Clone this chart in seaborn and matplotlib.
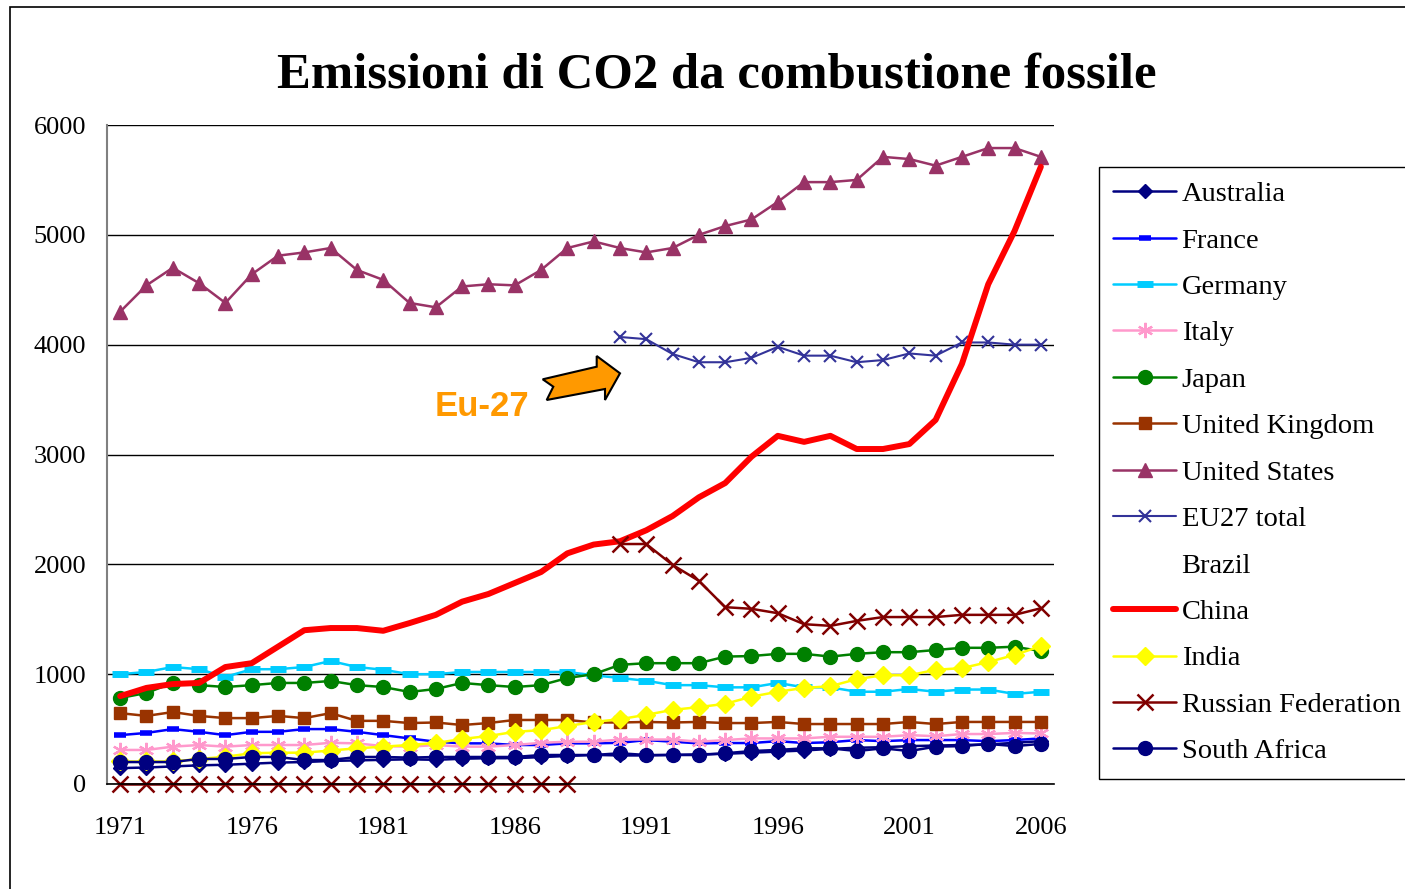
import numpy as np
import pandas as pd
import matplotlib
matplotlib.use("Agg")
import matplotlib.pyplot as plt
from matplotlib.lines import Line2D
from matplotlib.patches import Polygon, Rectangle
import seaborn as sns

years = list(range(1971, 2007))

australia = [145, 150, 160, 170, 175, 185, 195, 200, 210, 215, 220, 225, 220, 230, 235, 235,
             245, 255, 265, 260, 260, 265, 270, 275, 285, 295, 305, 320, 330, 335, 345, 350,
             355, 360, 375, 390]
france = [445, 465, 500, 475, 445, 475, 475, 500, 500, 475, 445, 415, 385, 370, 370, 355,
          355, 370, 370, 375, 400, 385, 370, 373, 373, 390, 373, 380, 400, 390, 400, 400,
          400, 390, 400, 415]
germany = [1000, 1020, 1065, 1045, 975, 1045, 1045, 1065, 1120, 1065, 1040, 1000, 1000, 1020,
           1020, 1020, 1020, 1020, 990, 965, 940, 900, 900, 880, 880, 920, 880, 880, 840, 840,
           865, 840, 860, 860, 820, 840]
italy = [310, 310, 340, 355, 340, 355, 355, 355, 375, 370, 345, 340, 355, 340, 340, 355,
         375, 385, 385, 405, 405, 405, 385, 400, 415, 415, 415, 430, 430, 430, 445, 435,
         455, 455, 465, 460]
japan = [783, 829, 920, 900, 883, 900, 920, 920, 938, 900, 883, 838, 865, 920, 900, 883,
         900, 965, 1000, 1085, 1100, 1100, 1100, 1160, 1165, 1185, 1185, 1160, 1185, 1200,
         1200, 1220, 1240, 1240, 1250, 1210]
uk = [645, 620, 655, 620, 600, 600, 620, 600, 645, 575, 575, 555, 560, 537, 555, 583,
      583, 583, 560, 560, 565, 560, 565, 555, 555, 565, 546, 546, 546, 546, 565, 546,
      565, 565, 565, 565]
usa = [4300, 4540, 4700, 4560, 4380, 4640, 4810, 4840, 4880, 4680, 4590, 4380, 4340, 4530,
       4550, 4540, 4680, 4880, 4940, 4880, 4840, 4880, 5000, 5080, 5140, 5300, 5480, 5480,
       5500, 5710, 5690, 5630, 5710, 5790, 5790, 5710]
eu27 = [np.nan] * 19 + [4070, 4050, 3915, 3840, 3840, 3880, 3980, 3900, 3900, 3840, 3860,
                        3920, 3900, 4020, 4020, 4000, 4000]
china = [800, 875, 910, 920, 1065, 1100, 1250, 1400, 1420, 1420, 1395, 1465, 1540, 1660,
         1730, 1830, 1930, 2100, 2180, 2210, 2310, 2440, 2610, 2740, 2980, 3170, 3115, 3170,
         3050, 3050, 3095, 3315, 3825, 4550, 5035, 5620]
india = [205, 205, 205, 228, 248, 280, 285, 285, 305, 325, 340, 355, 373, 410, 437, 475,
         490, 528, 565, 590, 630, 675, 700, 730, 795, 840, 875, 890, 955, 990, 990, 1040,
         1055, 1110, 1175, 1255]
russia = [0] * 18 + [np.nan] + [2185, 2185, 1995, 1850, 1610, 1595, 1555, 1455, 1440, 1485,
                                1520, 1520, 1520, 1540, 1540, 1540, 1600]
south_africa = [200, 200, 200, 228, 228, 246, 246, 218, 218, 246, 246, 240, 246, 246, 246,
                246, 264, 264, 264, 280, 264, 264, 264, 280, 300, 310, 325, 325, 300, 325,
                300, 340, 345, 365, 345, 365]

series_names = ["Australia", "France", "Germany", "Italy", "Japan", "United Kingdom",
                "United States", "EU27 total", "Brazil", "China", "India",
                "Russian Federation", "South Africa"]
series_values = [australia, france, germany, italy, japan, uk, usa, eu27, None, china,
                 india, russia, south_africa]

title_text = "Emissioni di CO2 da combustione fossile"
y_ticks = [0, 1000, 2000, 3000, 4000, 5000, 6000]
x_label_years = [1971, 1976, 1981, 1986, 1991, 1996, 2001, 2006]

styles = {
    "Australia": dict(color="#000080", marker="D", ms=7, mew=1, lw=1.8),
    "France": dict(color="#0000FF", marker="_", ms=8, mew=4, lw=1.8),
    "Germany": dict(color="#00CCFF", marker="_", ms=11, mew=5, lw=1.8),
    "Italy": dict(color="#FF99CC", marker=(6, 2, 0), ms=11, mew=1.6, lw=1.8),
    "Japan": dict(color="#008000", marker="o", ms=10, mew=1, lw=1.8),
    "United Kingdom": dict(color="#993300", marker="s", ms=9, mew=1, lw=1.8),
    "United States": dict(color="#993366", marker="^", ms=10, mew=1, lw=1.8),
    "EU27 total": dict(color="#333399", marker="x", ms=9, mew=1.5, lw=1.5),
    "China": dict(color="#FF0000", marker=None, ms=0, mew=0, lw=4.3),
    "India": dict(color="#FFFF00", marker="D", ms=9, mew=1, lw=1.8),
    "Russian Federation": dict(color="#800000", marker="x", ms=11, mew=1.8, lw=1.8),
    "South Africa": dict(color="#000080", marker="o", ms=10, mew=1, lw=1.8),
}

sns.set_theme(style="white")
plt.rcParams["font.family"] = ["Liberation Serif", "DejaVu Serif"]
plt.rcParams["text.color"] = "black"
plt.rcParams["xtick.color"] = "black"
plt.rcParams["ytick.color"] = "black"

W, H = 1405, 889
fig = plt.figure(figsize=(W / 100, H / 100), dpi=100)
fig.patch.set_facecolor("white")
ax = fig.add_axes([107 / W, 1 - 784 / H, (1054 - 107) / W, (784 - 125) / H])
ax.set_facecolor("white")

pos = np.arange(len(years))
handles = []
for name, vals in zip(series_names, series_values):
    if vals is None:
        handles.append(Line2D([], [], linestyle="none", marker=None, label=name))
        continue
    st = styles[name]
    arr = np.array(vals, dtype=float)
    valid = ~np.isnan(arr)
    idx = np.where(valid)[0]
    segs = np.split(idx, np.where(np.diff(idx) != 1)[0] + 1)
    for seg in segs:
        df = pd.DataFrame({"x": pos[seg], "y": arr[seg]})
        kw = dict(color=st["color"], linewidth=st["lw"], clip_on=False)
        if st["marker"] is not None:
            kw.update(marker=st["marker"], markersize=st["ms"],
                      markeredgecolor=st["color"], markerfacecolor=st["color"],
                      markeredgewidth=st["mew"])
        sns.lineplot(data=df, x="x", y="y", ax=ax, legend=False, **kw)
    handles.append(Line2D([], [], color=st["color"], linewidth=st["lw"],
                          marker=st["marker"] if st["marker"] is not None else None,
                          markersize=st["ms"], markeredgecolor=st["color"],
                          markerfacecolor=st["color"], markeredgewidth=st["mew"],
                          label=name))

ax.set_xlim(-0.5, len(years) - 0.5)
ax.set_ylim(0, 6000)
ax.set_yticks(y_ticks)
ax.set_yticklabels([str(v) for v in y_ticks], fontsize=19, color="black")
ax.set_xticks([years.index(y) for y in x_label_years])
ax.set_xticklabels([str(y) for y in x_label_years], fontsize=19, color="black")
ax.set_xticks(np.arange(-0.5, len(years), 1), minor=True)
ax.tick_params(axis="x", which="major", length=0, pad=24)
ax.tick_params(axis="x", which="minor", length=8, width=1.2, color="#808080", direction="out")
ax.tick_params(axis="y", which="major", length=8, width=1.2, color="#808080", direction="out", pad=7)
ax.set_xlabel("")
ax.set_ylabel("")
ax.yaxis.grid(True, color="black", linewidth=1)
ax.xaxis.grid(False)
for s in ["top", "right"]:
    ax.spines[s].set_visible(False)
ax.spines["left"].set_color("#808080")
ax.spines["left"].set_linewidth(1.5)
ax.spines["bottom"].set_color("black")
ax.spines["bottom"].set_linewidth(1.2)
ax.set_axisbelow(True)

fig.text(717 / W, 1 - 75 / H, title_text, ha="center", va="center",
         fontsize=36.5, fontweight="bold", color="black", family=["Liberation Serif"])

leg = fig.legend(handles=handles, loc="upper left",
                 bbox_to_anchor=(1099 / W, 1 - 167 / H), bbox_transform=fig.transFigure,
                 borderaxespad=0, frameon=True, fancybox=False, shadow=False,
                 framealpha=1, edgecolor="black", borderpad=0.5, handlelength=2.2,
                 handletextpad=0.2, labelspacing=0.72,
                 prop={"family": "Liberation Serif", "size": 20.5})
leg.get_frame().set_linewidth(1.0)
for t in leg.get_texts():
    t.set_color("black")

fig.text(482 / W, 1 - 406 / H, "Eu-27", ha="center", va="center", fontsize=25,
         fontweight="bold", color="#FF9900", family=["Liberation Sans"])
arrow_px = [(542.7, 379.3), (553.3, 386.7), (546.7, 400), (605, 389), (605, 400),
            (620, 373.3), (596.7, 356), (596.7, 366.7)]
arrow = Polygon([(x / W, 1 - y / H) for x, y in arrow_px], closed=True,
                facecolor="#FF9900", edgecolor="black", linewidth=1.5,
                transform=fig.transFigure)
fig.patches.append(arrow)

frame = Rectangle((10 / W, -0.05), 1.2, (889 - 7) / H + 0.05, fill=False,
                  edgecolor="black", linewidth=1.2, transform=fig.transFigure, clip_on=False)
fig.patches.append(frame)

fig.savefig("out.png", dpi=100)
